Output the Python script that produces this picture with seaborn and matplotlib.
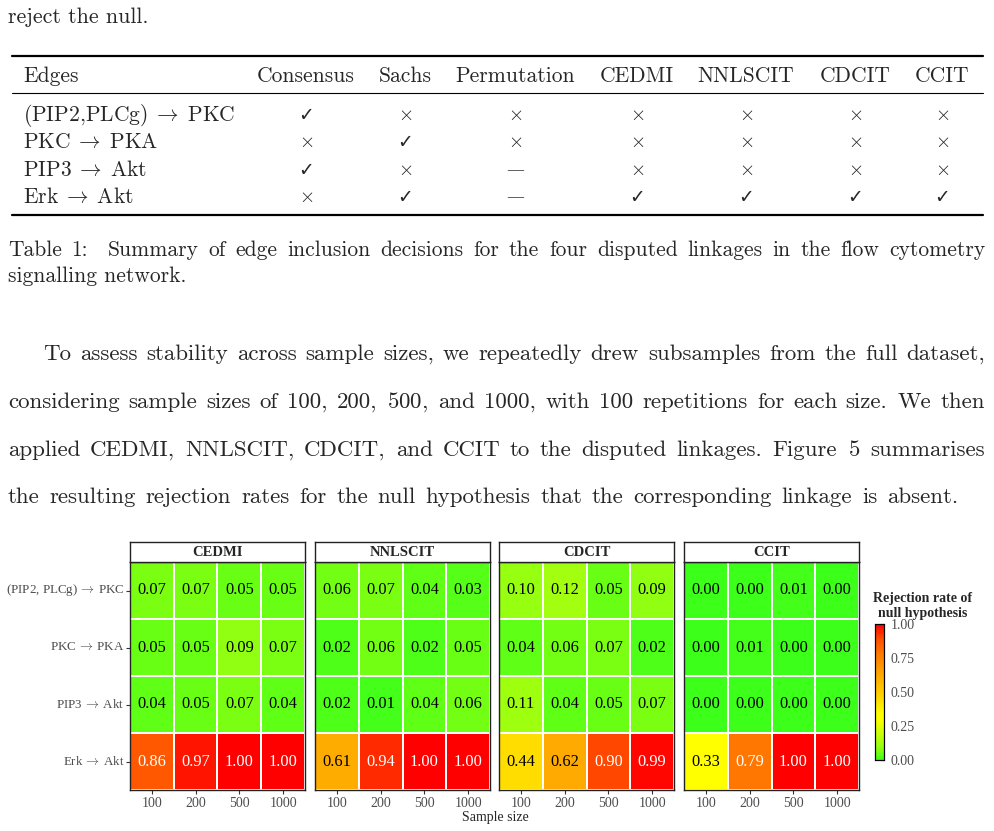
import numpy as np
import pandas as pd
import matplotlib
matplotlib.use("Agg")
import matplotlib.pyplot as plt
import seaborn as sns
from matplotlib.colors import LinearSegmentedColormap
from matplotlib.lines import Line2D

# ---------------- data ----------------
edges = ["(PIP2, PLCg)$\\,\\rightarrow\\,$PKC", "PKC$\\,\\rightarrow\\,$PKA",
         "PIP3$\\,\\rightarrow\\,$Akt", "Erk$\\,\\rightarrow\\,$Akt"]
sample_sizes = ["100", "200", "500", "1000"]
methods = ["CEDMI", "NNLSCIT", "CDCIT", "CCIT"]

cedmi = [[0.07, 0.07, 0.05, 0.05],
         [0.05, 0.05, 0.09, 0.07],
         [0.04, 0.05, 0.07, 0.04],
         [0.86, 0.97, 1.00, 1.00]]
nnlscit = [[0.06, 0.07, 0.04, 0.03],
           [0.02, 0.06, 0.02, 0.05],
           [0.02, 0.01, 0.04, 0.06],
           [0.61, 0.94, 1.00, 1.00]]
cdcit = [[0.10, 0.12, 0.05, 0.09],
         [0.04, 0.06, 0.07, 0.02],
         [0.11, 0.04, 0.05, 0.07],
         [0.44, 0.62, 0.90, 0.99]]
ccit = [[0.00, 0.00, 0.01, 0.00],
        [0.00, 0.01, 0.00, 0.00],
        [0.00, 0.00, 0.00, 0.00],
        [0.33, 0.79, 1.00, 1.00]]
rates = [cedmi, nnlscit, cdcit, ccit]

# table 1: 1 = check, 0 = cross, None = dash
table_cols = ["Edges", "Consensus", "Sachs", "Permutation", "CEDMI", "NNLSCIT", "CDCIT", "CCIT"]
table_edges = ["(PIP2,PLCg)$\\;\\rightarrow\\;$PKC", "PKC$\\;\\rightarrow\\;$PKA",
               "PIP3$\\;\\rightarrow\\;$Akt", "Erk$\\;\\rightarrow\\;$Akt"]
consensus = [1, 0, 1, 0]
sachs = [0, 1, 0, 1]
permutation = [0, 0, None, None]
cedmi_dec = [0, 0, 0, 1]
nnlscit_dec = [0, 0, 0, 1]
cdcit_dec = [0, 0, 0, 1]
ccit_dec = [0, 0, 0, 1]
decisions = [consensus, sachs, permutation, cedmi_dec, nnlscit_dec, cdcit_dec, ccit_dec]

first_line = "reject the null."
caption1 = "Table 1:  Summary of edge inclusion decisions for the four disputed linkages in the flow cytometry"
caption2 = "signalling network."
# the cmr10 "5" gets a bad baseline as plain text, so those go through mathtext
para = ["To assess stability across sample sizes, we repeatedly drew subsamples from the full dataset,",
        "considering sample sizes of 100, 200, $500$, and 1000, with 100 repetitions for each size. We then",
        "applied CEDMI, NNLSCIT, CDCIT, and CCIT to the disputed linkages. Figure $5$ summarises",
        "the resulting rejection rates for the null hypothesis that the corresponding linkage is absent."]

# ---------------- setup ----------------
sns.set_theme(style="white")
plt.rcParams["mathtext.fontset"] = "cm"
plt.rcParams["axes.formatter.use_mathtext"] = True

W, H = 994, 831
fig = plt.figure(figsize=(W / 100, H / 100), dpi=100)
fx = lambda x: x / W
fy = lambda y: 1 - y / H

CM = "cmr10"
TIMES = ["Liberation Serif", "DejaVu Serif"]
TSIZE = 15.5   # table / caption
PSIZE = 16.5   # paragraph
renderer = fig.canvas.get_renderer()


def wdt(s, size):
    t = fig.text(0, 0, s, fontsize=size, family=CM)
    w = t.get_window_extent(renderer).width
    t.remove()
    return w


def justify(line, y, x0, x1, size):
    # word starts from prefix widths, so any per-text padding cancels out
    words = line.split(" ")
    pad = 2 * wdt("x", size) - wdt("xx", size)
    starts = [wdt(" ".join(words[:k + 1]), size) - wdt(words[k], size) for k in range(len(words))]
    natural = wdt(line, size) - pad
    extra = (x1 - x0 - natural) / (len(words) - 1)
    for k, w in enumerate(words):
        fig.text(fx(x0 + starts[k] + k * extra), fy(y), w, fontsize=size, family=CM, va="baseline")


# ---------------- page text ----------------
fig.text(fx(8), fy(23), first_line, fontsize=15.8, family=CM, va="baseline")

# table rules
for y, lw in [(56, 1.6), (93, 0.8), (215, 1.6)]:
    fig.add_artist(Line2D([fx(12), fx(983)], [fy(y), fy(y)], color="black", lw=lw))

col_x = [23, 306, 405, 515, 637, 746, 855, 942]
fig.text(fx(col_x[0]), fy(82), table_cols[0], fontsize=TSIZE, family=CM, va="baseline")
for cx, name in zip(col_x[1:], table_cols[1:]):
    fig.text(fx(cx), fy(82), name, fontsize=TSIZE, family=CM, va="baseline", ha="center")

row_y = [121, 148, 176, 203]
for ry, name in zip(row_y, table_edges):
    fig.text(fx(col_x[0]), fy(ry), name, fontsize=TSIZE, family=CM, va="baseline")
for cx, dec in zip(col_x[1:], decisions):
    for ry, d in zip(row_y, dec):
        if d == 1:
            fig.text(fx(cx), fy(ry), "✓", fontsize=13.5, family="DejaVu Sans", va="baseline", ha="center")
        elif d == 0:
            fig.text(fx(cx), fy(ry - 1), "$\\times$", fontsize=14, color="#222222",
                     va="baseline", ha="center")
        else:
            fig.text(fx(cx), fy(ry - 1), "—", fontsize=13, family="DejaVu Serif", color="#555555",
                     va="baseline", ha="center")

justify(caption1, 256, 8, 985, TSIZE)
fig.text(fx(8), fy(282), caption2, fontsize=TSIZE, family=CM, va="baseline")

para_y = [360, 408, 456, 503]
justify(para[0], para_y[0], 43, 985, PSIZE)
justify(para[1], para_y[1], 8, 985, PSIZE)
justify(para[2], para_y[2], 8, 985, PSIZE)
justify(para[3], para_y[3], 8, 958, PSIZE)

# ---------------- heatmap figure ----------------
cmap = LinearSegmentedColormap.from_list("rej", [
    (0.0, "#3cff1a"), (0.1, "#99ff10"), (0.3, "#ffff00"), (0.34, "#ffff00"),
    (0.44, "#ffdd00"), (0.62, "#ffaa00"), (0.79, "#ff7700"), (0.9, "#ff4800"),
    (1.0, "#ff0000")])

panel_x = [130, 315, 499, 684]
pw, top, bot = 175, 562, 790
cax = fig.add_axes([fx(875), fy(760), 9 / W, 136 / H])

for i, (m, vals, px) in enumerate(zip(methods, rates, panel_x)):
    df = pd.DataFrame(vals, index=edges, columns=sample_sizes)
    ax = fig.add_axes([fx(px), fy(bot), pw / W, (bot - top) / H])
    last = i == len(methods) - 1
    sns.heatmap(df, ax=ax, cmap=cmap, vmin=0, vmax=1, annot=True, fmt=".2f",
                linewidths=1.2, linecolor="white", cbar=last, cbar_ax=cax if last else None,
                annot_kws=dict(size=11.8, family=TIMES))
    flat = np.array(vals).ravel()
    for t, v in zip(ax.texts, flat):
        t.set_color("white" if v >= 0.7 else "black")
    for sp in ax.spines.values():
        sp.set_visible(True)
        sp.set_color("#222222")
        sp.set_linewidth(1.0)
    ax.set_xlabel("")
    ax.set_ylabel("")
    ax.tick_params(axis="x", bottom=True, length=3, width=0.8, color="#333333", pad=2,
                   labelsize=10, labelcolor="#4d4d4d")
    for lab in ax.get_xticklabels():
        lab.set_family(TIMES)
        lab.set_rotation(0)
    if i == 0:
        ax.tick_params(axis="y", left=True, length=3, width=0.8, color="#333333", pad=1,
                       labelsize=9.4, labelcolor="#4d4d4d")
        for lab in ax.get_yticklabels():
            lab.set_family(TIMES)
            lab.set_rotation(0)
    else:
        ax.set_yticks([])

    sax = fig.add_axes([fx(px), fy(top), pw / W, 20 / H])
    sax.set_facecolor("white")
    sax.set_xticks([])
    sax.set_yticks([])
    for sp in sax.spines.values():
        sp.set_visible(True)
        sp.set_color("#222222")
        sp.set_linewidth(1.0)
    sax.text(0.5, 0.45, m, ha="center", va="center", fontsize=10.5, weight="bold",
             family=TIMES, transform=sax.transAxes)

cax.set_yticks([0, 0.25, 0.5, 0.75, 1.0])
cax.set_yticklabels(["0.00", "0.25", "0.50", "0.75", "1.00"])
cax.tick_params(axis="y", right=True, left=False, direction="in", length=3, width=0.8,
                color="black", labelsize=10, labelcolor="#4d4d4d", pad=5)
for lab in cax.get_yticklabels():
    lab.set_family(TIMES)
for sp in cax.spines.values():
    sp.set_visible(True)
    sp.set_color("black")
    sp.set_linewidth(0.8)

fig.text(fx(923), fy(602), "Rejection rate of", ha="center", va="baseline",
         fontsize=10, weight="bold", family=TIMES)
fig.text(fx(923), fy(617), "null hypothesis", ha="center", va="baseline",
         fontsize=10, weight="bold", family=TIMES)
fig.text(fx(495), fy(821), "Sample size", ha="center", va="baseline", fontsize=10, family=TIMES)

fig.savefig("out.png", dpi=100, facecolor="white")
